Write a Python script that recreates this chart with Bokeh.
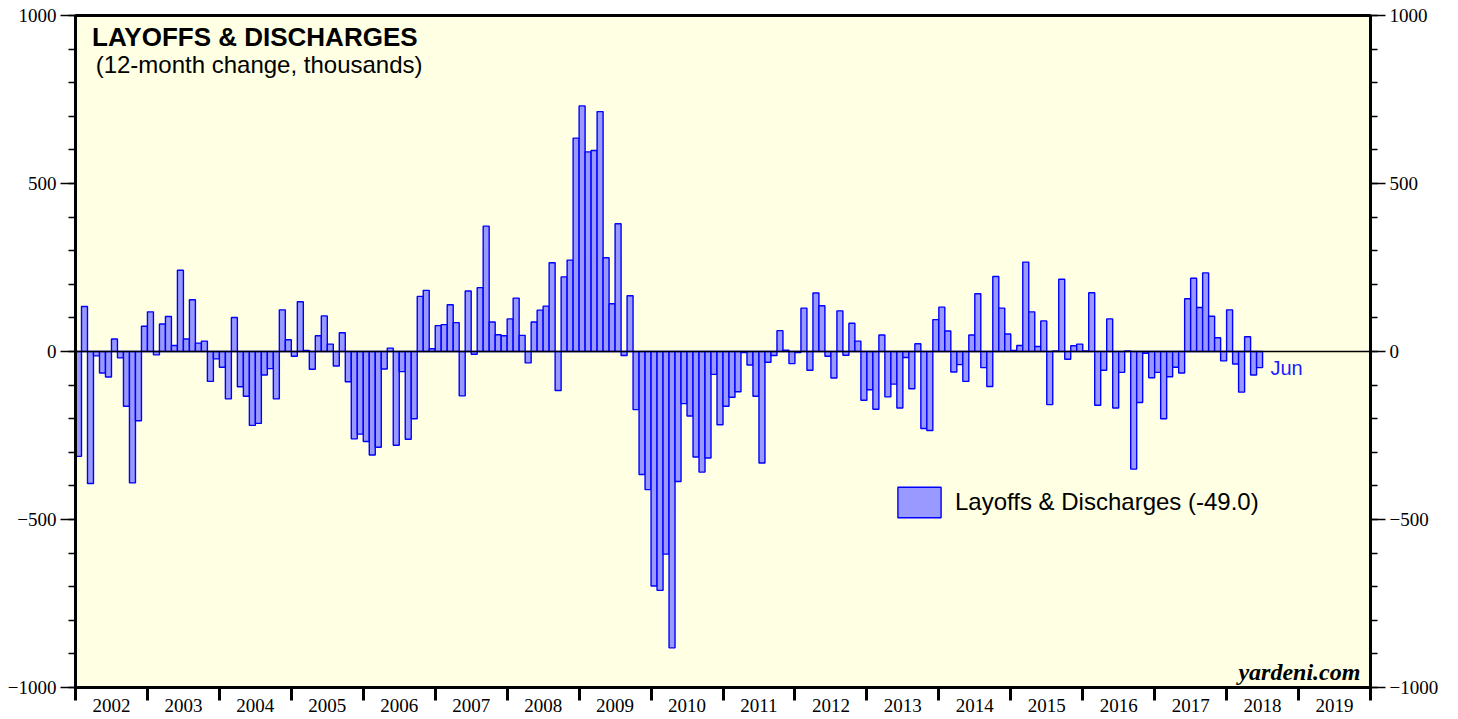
from bokeh.plotting import figure
from bokeh.models import (Range1d, LinearAxis, FixedTicker, CustomJSTickFormatter,
                          Span, Label, ColumnDataSource, Legend, LegendItem)
from bokeh.embed import file_html
from bokeh.resources import INLINE

# 12-month change in layoffs & discharges, thousands (monthly, Jan 2002 - Jun 2018)
v2002 = [-312, 134, -393, -13, -64, -76, 37, -19, -163, -391, -206, 75]
v2003 = [118, -10, 82, 104, 18, 242, 37, 154, 25, 31, -89, -22]
v2004 = [-47, -141, 101, -105, -133, -220, -214, -70, -51, -141, 124, 35]
v2005 = [-14, 148, 3, -53, 47, 106, 22, -43, 56, -90, -260, -246]
v2006 = [-268, -308, -285, -52, 10, -279, -60, -261, -200, 164, 182, 8]
v2007 = [77, 80, 139, 86, -132, 180, -8, 190, 373, 88, 50, 47]
v2008 = [97, 159, 48, -34, 88, 123, 135, 264, -116, 222, 272, 635]
v2009 = [731, 594, 598, 714, 279, 142, 380, -12, 166, -173, -366, -411]
v2010 = [-698, -711, -603, -882, -387, -155, -192, -314, -359, -317, -68, -218]
v2011 = [-163, -136, -120, -3, -40, -133, -332, -32, -12, 62, 4, -36]
v2012 = [-3, 129, -56, 174, 136, -14, -79, 121, -11, 84, 31, -145]
v2013 = [-114, -172, 49, -135, -97, -168, -18, -111, 23, -229, -235, 95]
v2014 = [132, 61, -61, -39, -89, 49, 172, -48, -104, 223, 129, 52]
v2015 = [3, 18, 266, 118, 15, 91, -158, 2, 215, -23, 17, 22]
v2016 = [2, 175, -160, -56, 97, -168, -62, 2, -350, -152, -5, -78]
v2017 = [-62, -200, -75, -47, -64, 157, 218, 131, 234, 105, 41, -28]
v2018 = [124, -37, -121, 44, -70, -48]

start_year = 2002
end_year = 2020
year_labels = [str(y) for y in range(2002, 2020)]
y_major = [-1000, -500, 0, 500, 1000]
latest_month = "Jun"
series_name = "Layoffs & Discharges (-49.0)"

values = (v2002 + v2003 + v2004 + v2005 + v2006 + v2007 + v2008 + v2009 + v2010 +
          v2011 + v2012 + v2013 + v2014 + v2015 + v2016 + v2017 + v2018)
xs = [start_year + (i + 0.5) / 12 for i in range(len(values))]
src = ColumnDataSource(dict(x=xs, top=values))

p = figure(width=1450, height=719, x_range=Range1d(start_year, end_year),
           y_range=Range1d(-1000, 1000), output_backend="svg", toolbar_location=None,
           min_border_left=75, min_border_right=80, min_border_top=15, min_border_bottom=32)
p.background_fill_color = "#FFFFE3"
p.border_fill_color = "white"
p.outline_line_color = "black"
p.outline_line_width = 3
p.xgrid.visible = False
p.ygrid.visible = False

bars = p.vbar(x="x", top="top", bottom=0, width=1 / 12, source=src,
              fill_color="#9999FF", line_color="#0000FF", line_width=1.4)

p.add_layout(Span(location=0, dimension="width", line_color="black", line_width=1.3))

# bottom axis: year ticks at boundaries (minor), labels centered (major)
ax = p.xaxis[0]
ax.ticker = FixedTicker(ticks=[y + 0.5 for y in range(2002, 2020)],
                        minor_ticks=list(range(start_year, end_year + 1)))
ax.formatter = CustomJSTickFormatter(code="return String(Math.floor(tick));")
ax.major_tick_out = 0
ax.major_tick_in = 0
ax.minor_tick_out = 13
ax.minor_tick_in = 0
ax.minor_tick_line_width = 3
ax.minor_tick_line_color = "black"
ax.axis_line_width = 3
ax.major_label_text_font = "Liberation Serif"
ax.major_label_text_font_size = "19px"
ax.major_label_text_color = "black"
ax.major_label_standoff = -2


def style_y(a):
    a.ticker = FixedTicker(ticks=y_major, minor_ticks=list(range(-1000, 1001, 100)))
    a.major_tick_out = 15
    a.major_tick_in = 0
    a.minor_tick_out = 7
    a.minor_tick_in = 0
    a.major_tick_line_width = 1.5
    a.minor_tick_line_width = 1.5
    a.axis_line_width = 3
    a.major_label_text_font = "Liberation Serif"
    a.major_label_text_font_size = "19px"
    a.major_label_text_color = "black"
    a.major_label_standoff = 4


style_y(p.yaxis[0])
ry = LinearAxis()
style_y(ry)
p.add_layout(ry, "right")

# titles and notes
p.add_layout(Label(x=2002.23, y=982, text="LAYOFFS & DISCHARGES", text_font="Liberation Sans",
                   text_font_style="bold", text_font_size="26px", text_baseline="top",
                   text_color="black"))
p.add_layout(Label(x=2002.28, y=893, text="(12-month change, thousands)",
                   text_font="Liberation Sans", text_font_size="24px", text_baseline="top",
                   text_color="black"))
p.add_layout(Label(x=2018.61, y=-50, text=latest_month, text_font="Liberation Sans",
                   text_font_size="20px", text_baseline="middle", text_color="#2020FF"))
p.add_layout(Label(x=2019.86, y=-955, text="yardeni.com", text_font="Liberation Serif",
                   text_font_style="bold italic", text_font_size="24px",
                   text_baseline="middle", text_align="right", text_color="black"))

legend = Legend(items=[LegendItem(label=series_name, renderers=[bars])],
                location=(817, 166), orientation="vertical")
legend.glyph_width = 54
legend.glyph_height = 38
legend.label_standoff = 9
legend.padding = 0
legend.margin = 0
legend.border_line_color = None
legend.background_fill_alpha = 0
legend.label_text_font = "Liberation Sans"
legend.label_text_font_size = "24px"
legend.label_text_color = "black"
p.add_layout(legend, "center")

open("out.html", "w").write(file_html(p, INLINE))
